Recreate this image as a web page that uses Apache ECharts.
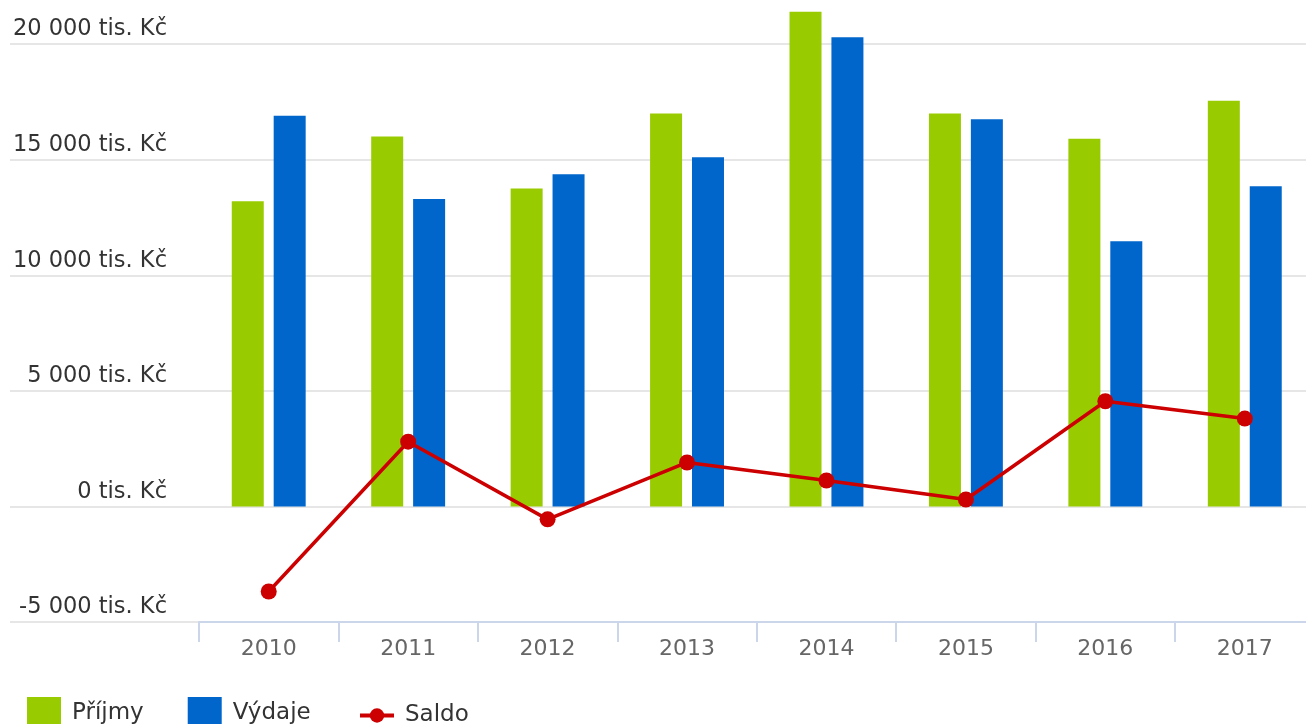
<!DOCTYPE html>
<html>
<head>
<meta charset="utf-8">
<script src="https://cdn.jsdelivr.net/npm/echarts@6/dist/echarts.min.js"></script>
<style>
  html, body { margin: 0; padding: 0; background: #fff; }
  #chart { width: 1306px; height: 724px; }
</style>
</head>
<body>
<div id="chart"></div>
<script>
// data (tis. Kč)
const years = ['2010', '2011', '2012', '2013', '2014', '2015', '2016', '2017'];
const prijmy = [13200, 16000, 13750, 17000, 21400, 17000, 15900, 17550];
const vydaje = [16900, 13300, 14370, 15100, 20300, 16750, 11470, 13850];
const saldo = [-3680, 2800, -560, 1900, 1120, 300, 4550, 3800];

const yMin = -5000;
const yMax = 25000;
const yStep = 5000;

function fmt(v) {
  const s = String(Math.abs(v)).replace(/\B(?=(\d{3})+(?!\d))/g, ' ');
  return (v < 0 ? '-' : '') + s + ' tis. Kč';
}

const chart = echarts.init(document.getElementById('chart'));

const font = 'DejaVu Sans';
const gridTop = -71.5;
const gridBottom = 102;

const legendText = { fontSize: 23, color: '#333', padding: [0, 0, 0, 6], fontFamily: font };

const option = {
  animation: false,
  textStyle: { fontFamily: font },
  grid: [
    // bars and line
    { left: 199, right: -8.5, top: gridTop, bottom: gridBottom, outerBoundsMode: 'none' },
    // full-width grid only for the split lines and the labels
    { left: 10, right: -8.5, top: gridTop, bottom: gridBottom, outerBoundsMode: 'none' }
  ],
  legend: [
    {
      left: 27,
      top: 697,
      padding: 0,
      itemWidth: 34,
      itemHeight: 32,
      itemGap: 44,
      icon: 'rect',
      textStyle: legendText,
      data: ['Příjmy', 'Výdaje']
    },
    {
      left: 358,
      top: 704,
      padding: 0,
      itemWidth: 34,
      itemHeight: 18,
      lineStyle: { width: 4 },
      textStyle: legendText,
      data: ['Saldo']
    }
  ],
  xAxis: [
    {
      type: 'category',
      gridIndex: 0,
      data: years,
      z: 3,
      axisLine: { show: true, onZero: false, lineStyle: { color: '#ccd6eb', width: 2 } },
      axisTick: { show: true, length: 20, lineStyle: { color: '#ccd6eb', width: 2 } },
      axisLabel: { color: '#666', fontSize: 22, margin: 16, fontFamily: font },
      splitLine: { show: false }
    },
    {
      type: 'value',
      gridIndex: 1,
      show: false
    }
  ],
  yAxis: [
    {
      type: 'value',
      gridIndex: 0,
      min: yMin, max: yMax, interval: yStep,
      axisLine: { show: false },
      axisTick: { show: false },
      axisLabel: { show: false },
      splitLine: { show: false }
    },
    {
      type: 'value',
      gridIndex: 1,
      min: yMin, max: yMax, interval: yStep,
      axisLine: { show: false },
      axisTick: { show: false },
      axisLabel: {
        inside: true,
        margin: 157,
        align: 'right',
        verticalAlign: 'bottom',
        padding: [0, 0, 3, 0],
        color: '#333',
        fontSize: 22.5,
        fontFamily: font,
        formatter: fmt
      },
      splitLine: { show: true, lineStyle: { color: '#e6e6e6', width: 2 } }
    }
  ],
  series: [
    {
      name: 'Příjmy',
      type: 'bar',
      xAxisIndex: 0, yAxisIndex: 0,
      data: prijmy,
      barWidth: 32,
      barGap: '31%',
      itemStyle: { color: '#99cc00' }
    },
    {
      name: 'Výdaje',
      type: 'bar',
      xAxisIndex: 0, yAxisIndex: 0,
      data: vydaje,
      barWidth: 32,
      barGap: '31%',
      itemStyle: { color: '#0066cc' }
    },
    {
      name: 'Saldo',
      type: 'line',
      xAxisIndex: 0, yAxisIndex: 0,
      data: saldo,
      z: 5,
      symbol: 'circle',
      symbolSize: 16,
      lineStyle: { color: '#cc0000', width: 3.5 },
      itemStyle: { color: '#cc0000' }
    }
  ]
};

chart.setOption(option);
</script>
</body>
</html>
